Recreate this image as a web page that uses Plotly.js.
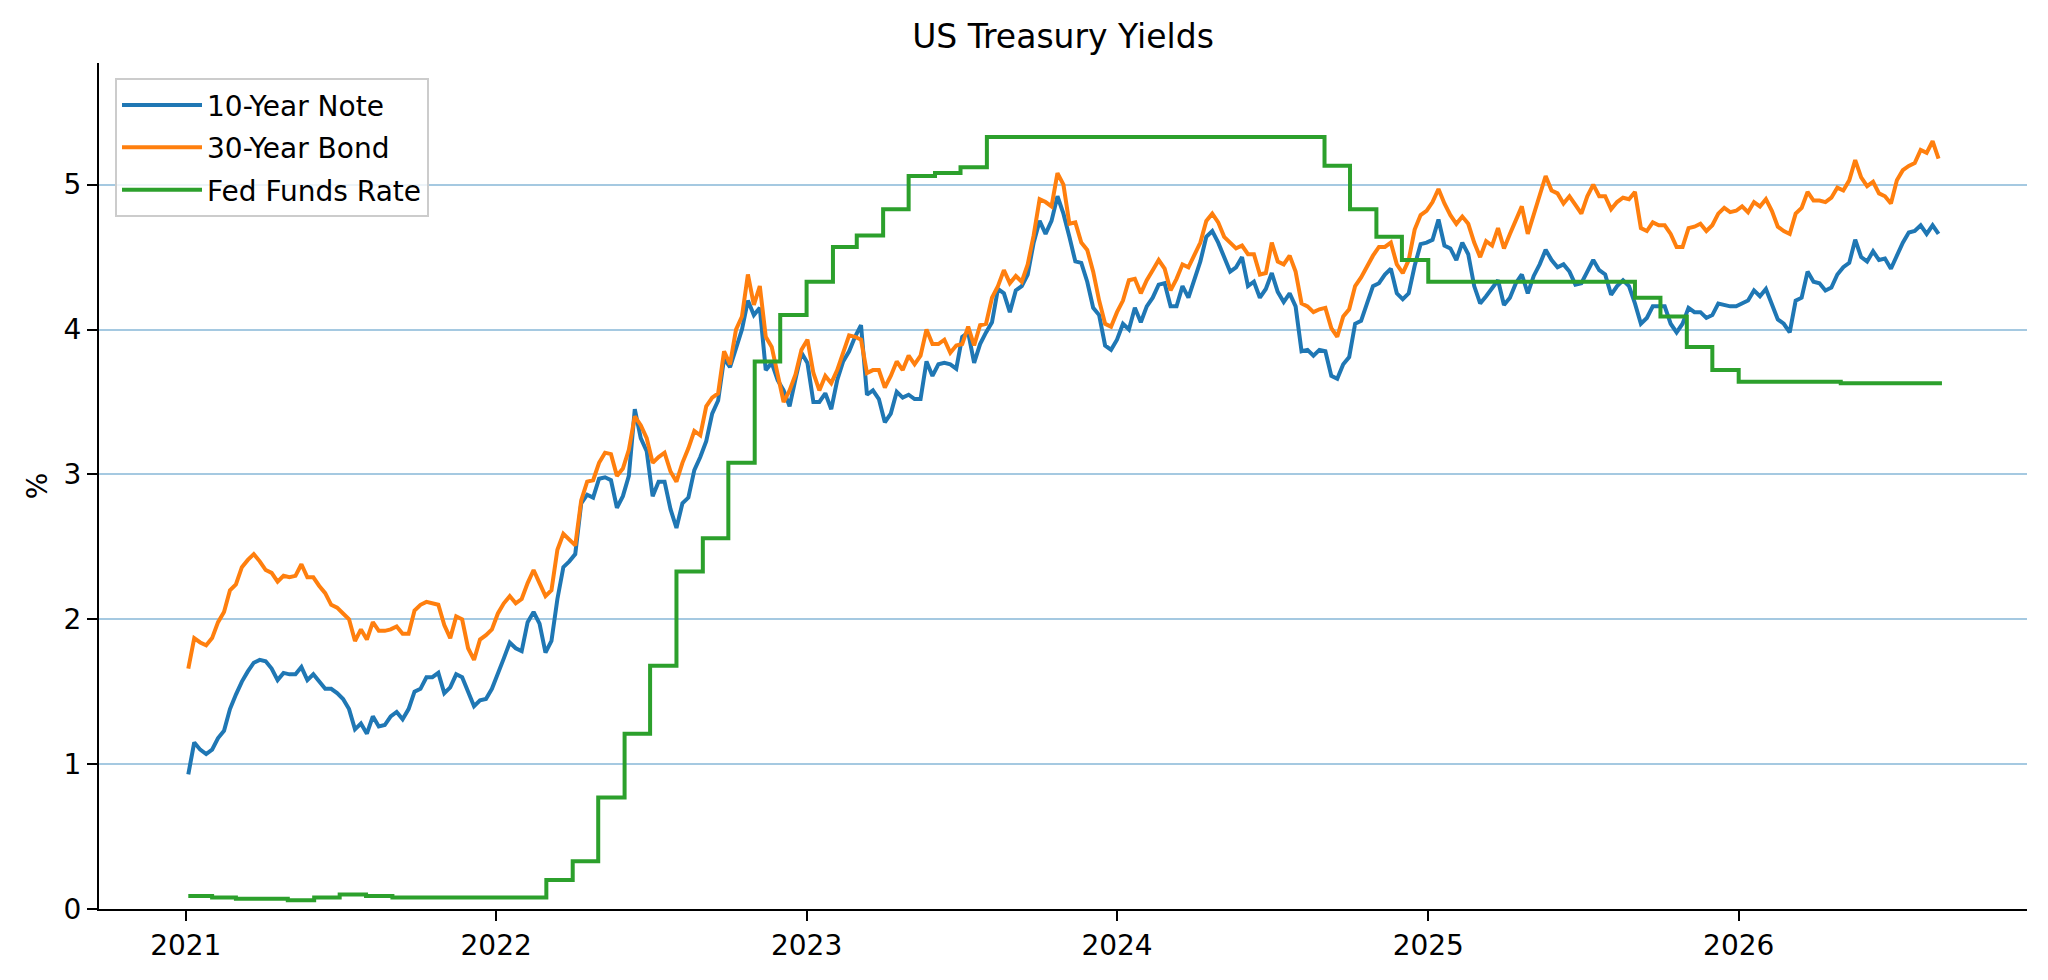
<!DOCTYPE html>
<html>
<head>
<meta charset="utf-8">
<script src="https://cdn.plot.ly/plotly-3.0.1.min.js"></script>
<style>
  html, body { margin: 0; padding: 0; background: #ffffff; }
  #yields-chart { width: 2048px; height: 980px; }
</style>
</head>
<body>
<div id="yields-chart"></div>
<script>
// weekly readings (Mondays) starting 2021-01-04
const firstWeek = '2021-01-04';

const note10y = [
    0.93, 1.15, 1.10, 1.07, 1.10, 1.18, 1.23, 1.38, 1.48, 1.57,
    1.64, 1.70, 1.72, 1.71, 1.66, 1.58, 1.63, 1.62, 1.62, 1.67,
    1.58, 1.62, 1.57, 1.52, 1.52, 1.49, 1.45, 1.38, 1.24, 1.28,
    1.21, 1.33, 1.26, 1.27, 1.33, 1.36, 1.31, 1.38, 1.50, 1.52,
    1.60, 1.60, 1.63, 1.49, 1.53, 1.62, 1.60, 1.50, 1.40, 1.44,
    1.45, 1.52, 1.62, 1.73, 1.84, 1.80, 1.78, 1.98, 2.05, 1.97,
    1.77, 1.85, 2.14, 2.36, 2.40, 2.45, 2.80, 2.86, 2.84, 2.97,
    2.98, 2.96, 2.77, 2.85, 2.99, 3.45, 3.25, 3.16, 2.85, 2.95,
    2.95, 2.76, 2.63, 2.80, 2.84, 3.03, 3.12, 3.23, 3.42, 3.51,
    3.80, 3.74, 3.87, 4.00, 4.20, 4.10, 4.15, 3.72, 3.77, 3.65,
    3.58, 3.47, 3.66, 3.84, 3.77, 3.50, 3.50, 3.56, 3.45, 3.65,
    3.78, 3.85, 3.95, 4.03, 3.55, 3.58, 3.52, 3.36, 3.42, 3.57,
    3.53, 3.55, 3.52, 3.52, 3.78, 3.68, 3.76, 3.77, 3.76, 3.73,
    3.95, 3.98, 3.77, 3.90, 3.98, 4.05, 4.28, 4.25, 4.12, 4.27,
    4.30, 4.38, 4.60, 4.75, 4.66, 4.75, 4.92, 4.80, 4.64, 4.47,
    4.46, 4.33, 4.15, 4.10, 3.89, 3.86, 3.93, 4.04, 4.00, 4.15,
    4.05, 4.16, 4.22, 4.31, 4.32, 4.16, 4.16, 4.30, 4.22, 4.34,
    4.47, 4.64, 4.68, 4.60, 4.50, 4.40, 4.43, 4.50, 4.30, 4.33,
    4.22, 4.28, 4.39, 4.26, 4.19, 4.25, 4.16, 3.85, 3.86, 3.82,
    3.86, 3.85, 3.68, 3.66, 3.76, 3.81, 4.04, 4.06, 4.18, 4.30,
    4.32, 4.38, 4.42, 4.25, 4.21, 4.25, 4.44, 4.59, 4.60, 4.62,
    4.76, 4.58, 4.56, 4.48, 4.60, 4.52, 4.30, 4.18, 4.23, 4.28,
    4.34, 4.17, 4.22, 4.32, 4.38, 4.25, 4.37, 4.45, 4.55, 4.48,
    4.43, 4.45, 4.40, 4.31, 4.32, 4.40, 4.48, 4.41, 4.38, 4.24,
    4.30, 4.34, 4.30, 4.18, 4.04, 4.08, 4.16, 4.16, 4.16, 4.04,
    3.98, 4.04, 4.15, 4.12, 4.12, 4.08, 4.10, 4.18, 4.17, 4.16,
    4.16, 4.18, 4.20, 4.27, 4.23, 4.28, 4.18, 4.07, 4.04, 3.98,
    4.20, 4.22, 4.40, 4.33, 4.32, 4.27, 4.29, 4.38, 4.43, 4.46,
    4.62, 4.50, 4.47, 4.54, 4.48, 4.49, 4.42, 4.51, 4.60, 4.67,
    4.68, 4.72, 4.66, 4.72, 4.66
];

const bond30y = [
    1.66, 1.87, 1.84, 1.82, 1.87, 1.98, 2.05, 2.20, 2.24, 2.36,
    2.41, 2.45, 2.40, 2.34, 2.32, 2.26, 2.30, 2.29, 2.30, 2.38,
    2.29, 2.29, 2.23, 2.18, 2.10, 2.08, 2.04, 2.00, 1.85, 1.93,
    1.86, 1.98, 1.92, 1.92, 1.93, 1.95, 1.90, 1.90, 2.06, 2.10,
    2.12, 2.11, 2.10, 1.96, 1.87, 2.02, 2.00, 1.80, 1.72, 1.86,
    1.89, 1.93, 2.04, 2.11, 2.16, 2.11, 2.14, 2.25, 2.34, 2.25,
    2.16, 2.20, 2.48, 2.59, 2.55, 2.51, 2.82, 2.95, 2.96, 3.08,
    3.15, 3.14, 2.99, 3.04, 3.17, 3.40, 3.34, 3.25, 3.08, 3.12,
    3.15, 3.02, 2.95, 3.08, 3.18, 3.30, 3.27, 3.47, 3.53, 3.56,
    3.85, 3.76, 4.00, 4.09, 4.38, 4.17, 4.30, 3.95, 3.88, 3.70,
    3.50, 3.58, 3.69, 3.86, 3.93, 3.70, 3.58, 3.68, 3.63, 3.72,
    3.85, 3.96, 3.95, 3.93, 3.70, 3.72, 3.72, 3.60, 3.68, 3.78,
    3.72, 3.82, 3.76, 3.82, 4.00, 3.90, 3.90, 3.93, 3.84, 3.89,
    3.90, 4.02, 3.89, 4.03, 4.04, 4.22, 4.30, 4.41, 4.32, 4.37,
    4.33, 4.45, 4.65, 4.90, 4.88, 4.85, 5.08, 5.00, 4.73, 4.74,
    4.60, 4.55, 4.40, 4.20, 4.04, 4.02, 4.12, 4.20, 4.34, 4.35,
    4.25, 4.34, 4.41, 4.48, 4.42, 4.27, 4.35, 4.45, 4.43, 4.52,
    4.60, 4.75, 4.80, 4.74, 4.64, 4.60, 4.56, 4.58, 4.52, 4.52,
    4.38, 4.39, 4.60, 4.47, 4.45, 4.51, 4.40, 4.18, 4.16, 4.12,
    4.14, 4.15, 4.01, 3.95, 4.09, 4.14, 4.30, 4.36, 4.44, 4.51,
    4.57, 4.57, 4.60, 4.45, 4.39, 4.48, 4.69, 4.79, 4.82, 4.88,
    4.97, 4.87, 4.79, 4.73, 4.78, 4.73, 4.60, 4.50, 4.61, 4.58,
    4.70, 4.56, 4.66, 4.76, 4.85, 4.66, 4.80, 4.92, 5.06, 4.96,
    4.94, 4.87, 4.92, 4.86, 4.80, 4.92, 5.00, 4.92, 4.92, 4.83,
    4.88, 4.91, 4.90, 4.95, 4.70, 4.68, 4.74, 4.72, 4.72, 4.66,
    4.57, 4.57, 4.70, 4.71, 4.73, 4.68, 4.72, 4.80, 4.84, 4.81,
    4.82, 4.85, 4.81, 4.88, 4.85, 4.90, 4.82, 4.71, 4.68, 4.66,
    4.80, 4.84, 4.95, 4.89, 4.89, 4.88, 4.91, 4.98, 4.96, 5.03,
    5.17, 5.05, 4.99, 5.02, 4.94, 4.92, 4.87, 5.03, 5.10, 5.13,
    5.15, 5.24, 5.22, 5.30, 5.18
];

// monthly effective fed funds rate, held until the next month
const fedDates = [
    '2021-01-04', '2021-02-01', '2021-03-01', '2021-04-01', '2021-05-01', '2021-06-01',
    '2021-07-01', '2021-08-01', '2021-09-01', '2021-10-01', '2021-11-01', '2021-12-01',
    '2022-01-01', '2022-02-01', '2022-03-01', '2022-04-01', '2022-05-01', '2022-06-01',
    '2022-07-01', '2022-08-01', '2022-09-01', '2022-10-01', '2022-11-01', '2022-12-01',
    '2023-01-01', '2023-02-01', '2023-03-01', '2023-04-01', '2023-05-01', '2023-06-01',
    '2023-07-01', '2023-08-01', '2023-09-01', '2023-10-01', '2023-11-01', '2023-12-01',
    '2024-01-01', '2024-02-01', '2024-03-01', '2024-04-01', '2024-05-01', '2024-06-01',
    '2024-07-01', '2024-08-01', '2024-09-01', '2024-10-01', '2024-11-01', '2024-12-01',
    '2025-01-01', '2025-02-01', '2025-03-01', '2025-04-01', '2025-05-01', '2025-06-01',
    '2025-07-01', '2025-08-01', '2025-09-01', '2025-10-01', '2025-11-01', '2025-12-01',
    '2026-01-01', '2026-02-01', '2026-03-01', '2026-04-01', '2026-05-01', '2026-06-01',
    '2026-07-01', '2026-08-01', '2026-08-28'
];

const fedRate = [
    0.09, 0.08, 0.07, 0.07, 0.06, 0.08, 0.10, 0.09, 0.08, 0.08, 0.08, 0.08,
    0.08, 0.08, 0.20, 0.33, 0.77, 1.21, 1.68, 2.33, 2.56, 3.08, 3.78, 4.10,
    4.33, 4.57, 4.65, 4.83, 5.06, 5.08, 5.12, 5.33, 5.33, 5.33, 5.33, 5.33,
    5.33, 5.33, 5.33, 5.33, 5.33, 5.33, 5.33, 5.33, 5.13, 4.83, 4.64, 4.48,
    4.33, 4.33, 4.33, 4.33, 4.33, 4.33, 4.33, 4.33, 4.22, 4.09, 3.88, 3.72,
    3.64, 3.64, 3.64, 3.64, 3.63, 3.63, 3.63, 3.63, 3.63
];

const yearTicks = ['2021-01-01', '2022-01-01', '2023-01-01', '2024-01-01', '2025-01-01', '2026-01-01'];
const yearLabels = ['2021', '2022', '2023', '2024', '2025', '2026'];

function weekDates(start, count) {
    let out = [];
    let d = new Date(start + 'T00:00:00Z');
    for (let i = 0; i < count; i++) {
        out.push(d.toISOString().slice(0, 10));
        d.setUTCDate(d.getUTCDate() + 7);
    }
    return out;
}

function plotYields() {
    let weeks = weekDates(firstWeek, note10y.length);
    let font = 'DejaVu Sans, Arial, sans-serif';

    let traceNote = {
        x: weeks,
        y: note10y,
        type: 'scatter',
        mode: 'lines',
        name: '10-Year Note',
        legendgroup: 'a',
        line: { color: '#1f77b4', width: 4 }
    };

    let traceBond = {
        x: weeks,
        y: bond30y,
        type: 'scatter',
        mode: 'lines',
        name: '30-Year Bond',
        legendgroup: 'b',
        line: { color: '#ff7f0e', width: 4 }
    };

    let traceFed = {
        x: fedDates,
        y: fedRate,
        type: 'scatter',
        mode: 'lines',
        name: 'Fed Funds Rate',
        legendgroup: 'c',
        line: { color: '#2ca02c', width: 4, shape: 'hv' }
    };

    let layout = {
        width: 2048,
        height: 980,
        margin: { l: 99, r: 21, t: 63, b: 71 },
        paper_bgcolor: '#ffffff',
        plot_bgcolor: '#ffffff',
        font: { family: font, size: 28, color: '#000000' },
        title: {
            text: 'US Treasury Yields',
            font: { family: font, size: 33, color: '#000000' },
            x: 0.5,
            xref: 'paper',
            xanchor: 'center',
            y: 0.963,
            yref: 'container',
            yanchor: 'middle'
        },
        showlegend: true,
        legend: {
            x: 0.0083,
            y: 0.982,
            xanchor: 'left',
            yanchor: 'top',
            bgcolor: 'rgba(255,255,255,0.8)',
            bordercolor: '#cccccc',
            borderwidth: 2,
            itemwidth: 80,
            tracegroupgap: 3,
            font: { family: font, size: 28, color: '#000000' }
        },
        xaxis: {
            type: 'date',
            range: ['2020-09-21', '2026-12-06'],
            tickvals: yearTicks,
            ticktext: yearLabels,
            ticks: 'outside',
            ticklen: 10,
            tickwidth: 2,
            tickcolor: '#000000',
            showline: true,
            linecolor: '#000000',
            linewidth: 2,
            showgrid: false,
            zeroline: false,
            tickfont: { family: font, size: 28, color: '#000000' }
        },
        yaxis: {
            range: [0, 5.84],
            tick0: 0,
            dtick: 1,
            ticks: 'outside',
            ticklen: 10,
            tickwidth: 2,
            tickcolor: '#000000',
            showline: true,
            linecolor: '#000000',
            linewidth: 2,
            showgrid: true,
            gridcolor: '#a5c9e1',
            gridwidth: 1.5,
            zeroline: false,
            automargin: false,
            tickfont: { family: font, size: 28, color: '#000000' },
            title: {
                text: '%',
                standoff: 8,
                font: { family: font, size: 28, color: '#000000' }
            }
        }
    };

    let config = {
        responsive: false,
        displayModeBar: false
    };

    Plotly.newPlot('yields-chart', [traceNote, traceBond, traceFed], layout, config);
}

plotYields();
</script>
</body>
</html>
